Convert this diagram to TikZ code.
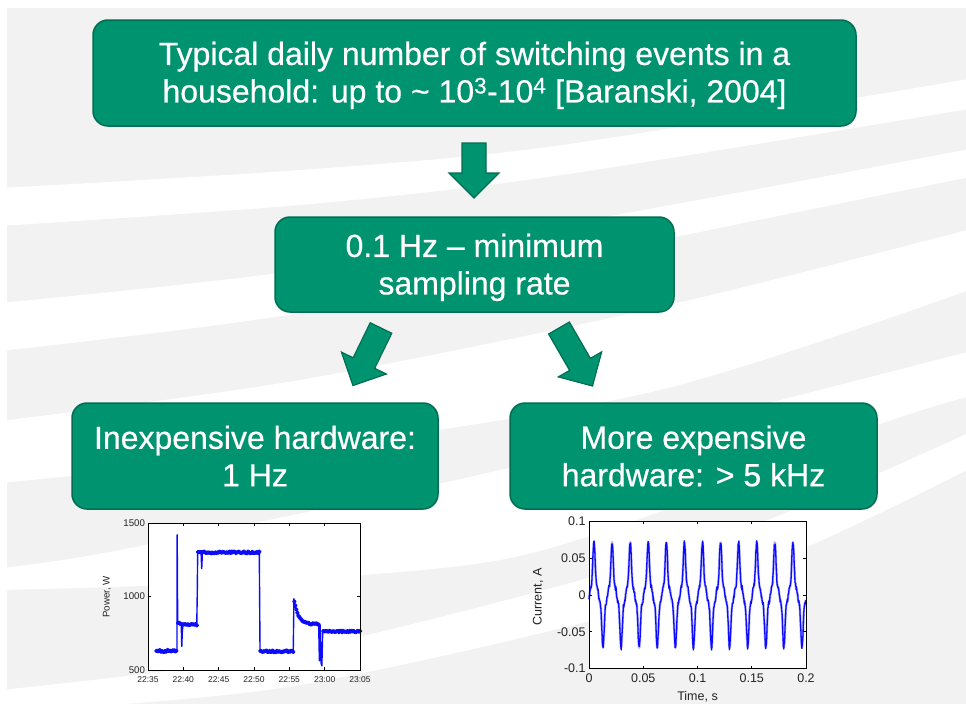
\documentclass[tikz,border=0pt]{standalone}
\usepackage{fontspec}
\setmainfont{Liberation Sans}
\newfontfamily\boxfont{Liberation Sans}[FakeBold=0.5]
\definecolor{boxfill}{RGB}{0,147,112}
\definecolor{boxedge}{RGB}{0,110,82}
\definecolor{panel}{RGB}{242,242,242}
\definecolor{trace}{RGB}{12,12,250}
\definecolor{axistext}{RGB}{35,35,35}
\tikzset{
  greenbox/.style={draw=boxedge, line width=1.5pt, fill=boxfill, rounded corners=15pt,
    text=white, align=center, inner sep=0pt, font=\boxfont\fontsize{32}{37.5}\selectfont},
  arrowbody/.style={fill=boxfill, draw=boxedge, line width=1.2pt, line join=miter},
  pics/blockarrow/.style={code={
    \path[arrowbody] (-12,0) -- (12,0) -- (12,#1-25) -- (25,#1-25) -- (0,#1)
      -- (-25,#1-25) -- (-12,#1-25) -- cycle;}},
  stripe/.style={fill=white},
  frame/.style={draw=black, line width=0.8pt},
  tickmark/.style={draw=black, line width=0.6pt},
  smalllabel/.style={inner sep=0pt, text=axistext, font=\fontsize{8.5}{10}\selectfont},
  powerlabel/.style={inner sep=0pt, text=axistext, font=\fontsize{9.7}{11}\selectfont},
  currentlabel/.style={inner sep=0pt, text=axistext, font=\fontsize{12.5}{14}\selectfont},
}
% one period of the distorted load current, angle in degrees
\pgfmathdeclarefunction{loadwave}{1}{%
  \pgfmathparse{0.048*(sin(#1)-0.35*sin(mod(3*#1,360))+0.15*sin(mod(5*#1,360)))}}
\begin{document}
\begin{tikzpicture}[x=1pt,y=-1pt]
\useasboundingbox (0,0) rectangle (966,704);
\fill[white] (0,0) rectangle (966,704);
\fill[panel] (7,8) rectangle (966,704);

% light diagonal bands of the slide background
\begin{scope}
  \clip (7,8) rectangle (966,704);
  \fill[stripe] plot[smooth] coordinates {(0,188) (300,170) (555,146) (975,78)}
    -- plot[smooth] coordinates {(975,108) (555,176) (300,205) (0,226)} -- cycle;
  \fill[stripe] plot[smooth] coordinates {(0,303) (300,270) (660,207) (975,148)}
    -- plot[smooth] coordinates {(975,176) (660,240) (300,313) (0,351)} -- cycle;
  \fill[stripe] plot[smooth] coordinates {(0,421) (300,380) (660,307) (975,228)}
    -- plot[smooth] coordinates {(975,288) (660,390) (300,450) (0,483)} -- cycle;
  \fill[stripe] plot[smooth] coordinates {(0,568) (120,550) (500,470) (975,350)}
    -- plot[smooth] coordinates {(975,395) (877,425) (500,560) (0,590)} -- cycle;
  \fill[stripe] plot[smooth] coordinates {(0,690) (300,650) (700,545) (975,430)}
    -- plot[smooth] coordinates {(975,466) (700,590) (300,685) (0,712)} -- cycle;
\end{scope}

% flow boxes
\node[greenbox, minimum width=763pt, minimum height=106pt] (events) at (474.5,73)
  {\rule{0pt}{28pt}Typical daily number of switching events in a\\household: up to \textasciitilde{} 10\textsuperscript{3}-10\textsuperscript{4} [Baranski, 2004]};
\node[greenbox, minimum width=399pt, minimum height=95pt] (rate) at (474.5,264.5)
  {\rule{0pt}{29pt}0.1 Hz – minimum\\sampling rate};
\node[greenbox, minimum width=366pt, minimum height=106pt] (cheap) at (255,456)
  {Inexpensive hardware:\\1 Hz};
\node[greenbox, minimum width=367pt, minimum height=106pt] (costly) at (693.5,456)
  {More expensive\\hardware: > 5 kHz};

% block arrows between the boxes
\pic at (474,143) {blockarrow=55};
\pic[rotate=-26] at (381,328) {blockarrow=64};
\pic[rotate=30] at (559,328) {blockarrow=67};

% power trace, 1 Hz sampling
\begin{scope}[shift={(148,670)}, x=7.067pt, y=0.147pt]
  \fill[white] (0,0) rectangle (30,1000);
  \pgfmathsetseed{4}
  \draw[trace, line width=1.4pt, line join=round, mark=*, mark size=1.5pt,
        mark options={fill=trace, draw=none}]
    plot[domain=1.2:4.0, samples=24] (\x,{130+7*rand})
    -- (4.1,128) -- (4.13,920) -- (4.2,318)
    -- plot[domain=4.25:4.7, samples=4] (\x,{316+5*rand})
    -- (4.78,160) -- (4.86,268)
    -- plot[domain=4.95:6.9, samples=14] (\x,{308+5*rand})
    -- (6.97,520) -- (7.03,800)
    -- plot[domain=7.1:7.5, samples=3] (\x,{806+6*rand})
    -- (7.6,690) -- (7.7,800)
    -- plot[domain=7.8:15.75, samples=56] (\x,{800+6*rand})
    -- (15.85,130)
    -- plot[domain=15.9:20.55, samples=33] (\x,{127+6*rand})
    -- (20.65,485)
    -- plot[domain=20.7:24.15, samples=25] (\x,{312+170*exp(-(\x-20.65)/0.6)+5*rand})
    -- (24.25,62) -- (24.35,305) -- (24.5,45) -- (24.6,28) -- (24.72,262)
    -- plot[domain=24.8:30, samples=36] (\x,{262+5*rand});
  \draw[frame] (0,0) rectangle (30,1000);
  \foreach \m in {5,10,...,25} {
    \draw[tickmark] (\m,0) -- (\m,20);
    \draw[tickmark] (\m,1000) -- (\m,980);
  }
  \draw[tickmark] (0,500) -- (0.42,500);
  \draw[tickmark] (30,500) -- (29.58,500);
  \foreach \m/\t in {0/22:35,5/22:40,10/22:45,15/22:50,20/22:55,25/23:00,30/23:05}
    \node[smalllabel, anchor=base] (pwx\m) at (\m,-88) {\t};
  \foreach \v/\t in {0/500,500/1000,1000/1500}
    \node[powerlabel, anchor=east] (pwy\t) at (-0.4,\v) {\t};
\end{scope}
\node[powerlabel, rotate=90] (pwaxis) at (107,597) {Power, W};

% current trace, kHz sampling; \c counts mains cycles (60 Hz)
\begin{scope}[shift={(589,595)}, x=1085pt, y=735pt]
  \fill[white] (0,-0.1) rectangle (0.2,0.1);
  \draw[trace!30, line width=2.4pt, line join=round]
    plot[domain=0:12, samples=600, variable=\c]
    ({\c/60},{loadwave(mod(360*\c-9.4,360))});
  \pgfmathsetseed{9}
  \draw[trace, line width=1.3pt, line join=round]
    plot[domain=0:12, samples=600, variable=\c]
    ({\c/60},{loadwave(mod(360*\c-9.4,360))+0.004*rand});
  \draw[frame] (0,-0.1) rectangle (0.2,0.1);
  \foreach \t in {0.05,0.1,0.15} {
    \draw[tickmark] (\t,-0.1) -- (\t,-0.096);
    \draw[tickmark] (\t,0.1) -- (\t,0.096);
  }
  \foreach \v in {-0.05,0,0.05} {
    \draw[tickmark] (0,\v) -- (0.0028,\v);
    \draw[tickmark] (0.2,\v) -- (0.1972,\v);
  }
  \foreach \t/\s in {0/0,0.05/0.05,0.1/0.1,0.15/0.15,0.2/0.2}
    \node[currentlabel, anchor=base] (cux\s) at (\t,-0.1197) {\s};
  \foreach \v/\s in {-0.1/-0.1,-0.05/-0.05,0/0,0.05/0.05,0.1/0.1}
    \node[currentlabel, anchor=east] (cuy\s) at (-0.003,\v) {\s};
  \node[currentlabel, anchor=base] (cutime) at (0.1,-0.1429) {Time, s};
\end{scope}
\node[currentlabel, rotate=90] (cuaxis) at (538,597) {Current, A};
\end{tikzpicture}
\end{document}
